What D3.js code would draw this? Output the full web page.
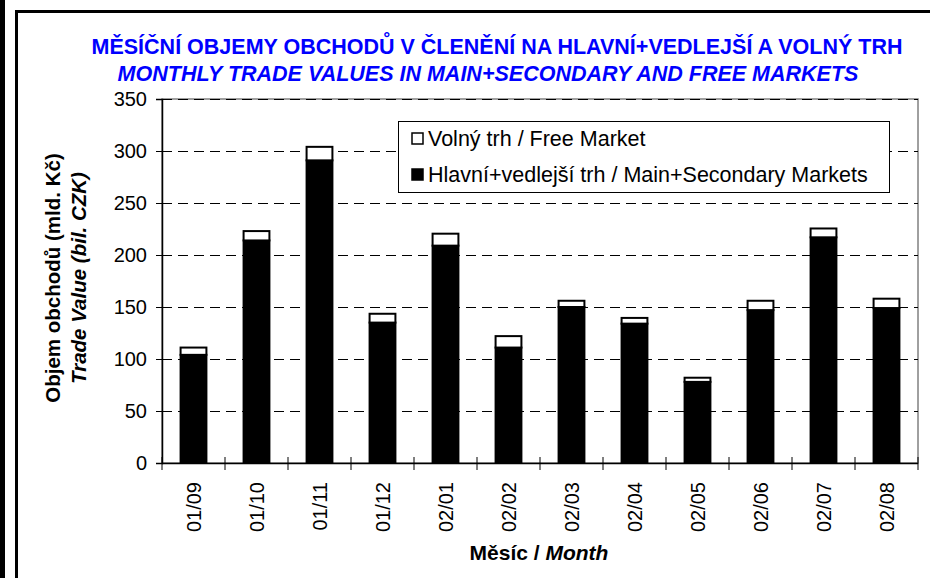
<!DOCTYPE html>
<html>
<head>
<meta charset="utf-8">
<script src="https://cdn.jsdelivr.net/npm/d3@7"></script>
<style>
  body { margin: 0; background: #fff; }
  text { font-family: "Liberation Sans", Arial, sans-serif; }
</style>
</head>
<body>
<div id="chart"></div>
<script>
var months = ["01/09", "01/10", "01/11", "01/12", "02/01", "02/02",
              "02/03", "02/04", "02/05", "02/06", "02/07", "02/08"];
var mainValues = [104, 214, 291, 135, 209, 111, 150, 134, 78, 147, 217, 149];
var freeValues = [7, 9, 13, 8.5, 11.5, 11, 6, 5.5, 4, 9, 8.5, 9];
var yTicks = [0, 50, 100, 150, 200, 250, 300, 350];
var seriesNames = ["Volný trh / Free Market", "Hlavní+vedlejší trh / Main+Secondary Markets"];

var svg = d3.select("#chart").append("svg")
    .attr("width", 930)
    .attr("height", 578);

var plot = { left: 162, right: 918, top: 99, bottom: 463 };

// outer frame
svg.append("rect").attr("x", 0).attr("y", 0).attr("width", 5).attr("height", 578).attr("fill", "#000");
svg.append("rect").attr("x", 16.5).attr("y", 11.5).attr("width", 940).attr("height", 600)
    .attr("fill", "none").attr("stroke", "#000").attr("stroke-width", 3);

var x = d3.scaleBand()
    .domain(months)
    .range([plot.left, plot.right])
    .paddingInner(0.59)
    .paddingOuter(0.295);

var y = d3.scaleLinear()
    .domain([0, 350])
    .range([plot.bottom, plot.top]);

var step = x.step();

// plot area border
svg.append("rect")
    .attr("x", plot.left).attr("y", plot.top)
    .attr("width", plot.right - plot.left).attr("height", plot.bottom - plot.top)
    .attr("fill", "none").attr("stroke", "#808080").attr("stroke-width", 1.5);

// grid
svg.append("g").selectAll("line")
    .data(yTicks.filter(function (d) { return d > 0; }))
    .join("line")
    .attr("x1", plot.left).attr("x2", plot.right)
    .attr("y1", function (d) { return Math.round(y(d)) + 0.5; })
    .attr("y2", function (d) { return Math.round(y(d)) + 0.5; })
    .attr("stroke", "#000")
    .attr("stroke-dasharray", "10,6");

// y axis
var yAxis = svg.append("g")
    .attr("transform", "translate(" + plot.left + ",0)")
    .call(d3.axisLeft(y).tickValues(yTicks).tickSize(6).tickPadding(9));
yAxis.select(".domain").attr("stroke-width", 1.5);
yAxis.selectAll("text").attr("font-size", 20).attr("fill", "#000")
    .attr("font-family", "Liberation Sans, Arial, sans-serif");

// bars
var stackData = months.map(function (m, i) {
    return { month: m, main: mainValues[i], free: freeValues[i] };
});
var series = d3.stack().keys(["main", "free"])(stackData);

svg.append("g").selectAll("g")
    .data(series)
    .join("g")
    .attr("fill", function (s) { return s.key === "main" ? "#000" : "#fff"; })
    .selectAll("rect")
    .data(function (s) { return s; })
    .join("rect")
    .attr("x", function (d) { return x(d.data.month); })
    .attr("y", function (d) { return y(d[1]); })
    .attr("width", x.bandwidth())
    .attr("height", function (d) { return y(d[0]) - y(d[1]); })
    .attr("stroke", "#000")
    .attr("stroke-width", 2);

// x axis
svg.append("line")
    .attr("x1", plot.left).attr("x2", plot.right)
    .attr("y1", plot.bottom + 0.5).attr("y2", plot.bottom + 0.5)
    .attr("stroke", "#000").attr("stroke-width", 1.5);

var boundaries = months.map(function (m) { return x(m) + x.bandwidth() / 2 - step / 2; });
boundaries.push(x(months[months.length - 1]) + x.bandwidth() / 2 + step / 2);
svg.append("g").selectAll("line")
    .data(boundaries)
    .join("line")
    .attr("x1", function (d) { return d; }).attr("x2", function (d) { return d; })
    .attr("y1", plot.bottom - 6).attr("y2", plot.bottom + 7)
    .attr("stroke", "#000");

svg.append("g").selectAll("text")
    .data(months)
    .join("text")
    .attr("transform", function (d) {
        return "translate(" + (x(d) + x.bandwidth() / 2 + 7) + "," + (plot.bottom + 19) + ") rotate(-90)";
    })
    .attr("text-anchor", "end")
    .attr("font-size", 20)
    .text(function (d) { return d; });

// titles
var title = svg.append("g").attr("font-weight", "bold").attr("text-anchor", "middle");
title.append("text").attr("x", 497).attr("y", 54).attr("font-size", 21.5).attr("fill", "#0000ff")
    .text("MĚSÍČNÍ OBJEMY OBCHODŮ V ČLENĚNÍ NA HLAVNÍ+VEDLEJŠÍ A VOLNÝ TRH");
title.append("text").attr("x", 488).attr("y", 81).attr("font-size", 21.5).attr("font-style", "italic").attr("fill", "#0000ff")
    .text("MONTHLY TRADE VALUES IN MAIN+SECONDARY AND FREE MARKETS");

var yTitle = svg.append("g").attr("font-weight", "bold").attr("text-anchor", "middle").attr("font-size", 20.5);
yTitle.append("text").attr("transform", "translate(60,278) rotate(-90)")
    .text("Objem obchodů (mld. Kč)");
yTitle.append("text").attr("transform", "translate(86,278) rotate(-90)")
    .attr("font-style", "italic")
    .text("Trade Value (bil. CZK)");

var xTitle = svg.append("text").attr("x", 539).attr("y", 560)
    .attr("text-anchor", "middle").attr("font-weight", "bold").attr("font-size", 21);
xTitle.append("tspan").text("Měsíc / ");
xTitle.append("tspan").attr("font-style", "italic").text("Month");

// legend
var legend = svg.append("g");
legend.append("rect").attr("x", 398.5).attr("y", 121.5).attr("width", 491).attr("height", 71)
    .attr("fill", "#fff").attr("stroke", "#000").attr("stroke-width", 1);
var legItems = legend.selectAll("g.item")
    .data(seriesNames)
    .join("g")
    .attr("class", "item")
    .attr("transform", function (d, i) { return "translate(0," + (i * 36) + ")"; });
legItems.append("rect")
    .attr("x", 412).attr("y", 133).attr("width", 11).attr("height", 11)
    .attr("fill", function (d, i) { return i === 0 ? "#fff" : "#000"; })
    .attr("stroke", "#000").attr("stroke-width", 1.5);
legItems.append("text")
    .attr("x", 428).attr("y", 146)
    .attr("font-size", 21.5)
    .text(function (d) { return d; });
</script>
</body>
</html>
